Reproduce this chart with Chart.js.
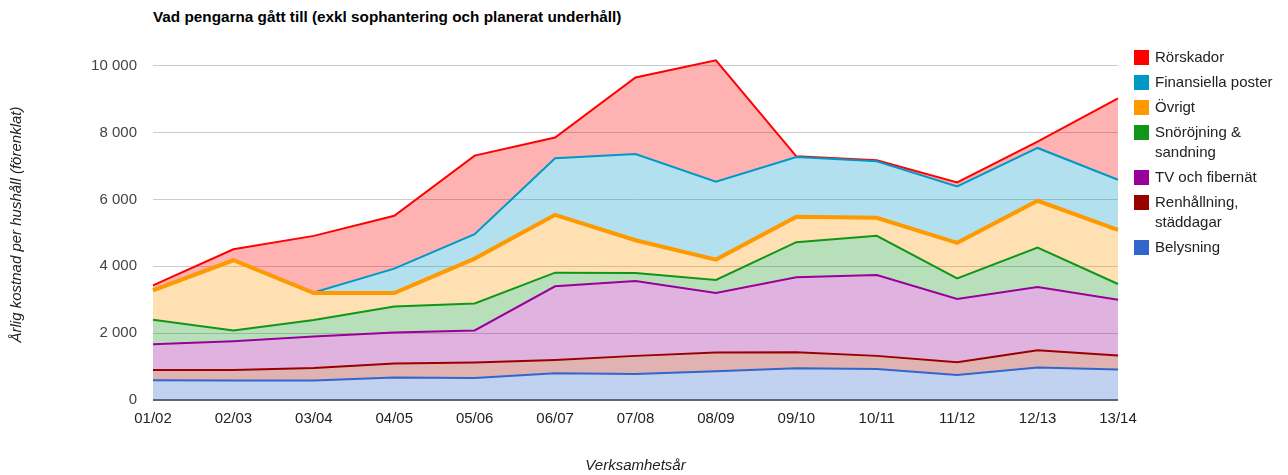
<!DOCTYPE html>
<html lang="sv">
<head>
<meta charset="utf-8">
<title>Vad pengarna gått till</title>
<script src="https://cdn.jsdelivr.net/npm/chart.js@4.4.1/dist/chart.umd.min.js"></script>
<style>
    html, body { margin: 0; padding: 0; background: #fff; }
    body { width: 1288px; height: 475px; position: relative; overflow: hidden; font-family: "Liberation Sans", Arial, sans-serif; }
    #chartTitle { position: absolute; left: 153px; top: 8px; font-size: 15.3px; font-weight: bold; color: #000; white-space: nowrap; }
    #chartWrap { position: absolute; left: 0; top: 0; width: 1288px; height: 475px; }
    #legend { position: absolute; left: 1134px; top: 47px; font-size: 15px; color: #222; }
    .item { position: relative; padding-left: 21px; width: 130px; line-height: 20px; margin-bottom: 5px; }
    .item .box { position: absolute; left: 0; top: 2.5px; width: 15px; height: 15px; }
</style>
</head>
<body>
<div id="chartTitle">Vad pengarna gått till (exkl sophantering och planerat underhåll)</div>
<div id="chartWrap"><canvas id="areaChart"></canvas></div>
<div id="legend"></div>
<script>
// Verksamhetsår
const years = ['01/02', '02/03', '03/04', '04/05', '05/06', '06/07', '07/08', '08/09', '09/10', '10/11', '11/12', '12/13', '13/14'];

// årlig kostnad per hushåll, per post (staplas nedifrån och upp)
const belysning   = [590, 580, 580, 670, 660, 800, 780, 860, 950, 930, 750, 970, 910];
const renhallning = [310, 320, 380, 420, 460, 400, 540, 560, 480, 390, 380, 520, 420];
const tvFiber     = [770, 860, 940, 930, 960, 2200, 2240, 1780, 2240, 2420, 1890, 1890, 1670];
const snorojning  = [730, 320, 490, 780, 810, 410, 240, 390, 1050, 1170, 620, 1180, 470];
const ovrigt      = [880, 2100, 810, 400, 1340, 1730, 980, 610, 760, 540, 1060, 1400, 1620];
const finansiella = [20, 10, 20, 730, 730, 1690, 2580, 2330, 1790, 1690, 1690, 1580, 1500];
const rorskador   = [130, 320, 1690, 1580, 2350, 620, 2290, 3630, 20, 30, 120, 190, 2430];

const yTicks = [0, 2000, 4000, 6000, 8000, 10000];

const series = [
    { label: 'Belysning', data: belysning, color: '#3366cc', rgb: '51, 102, 204', width: 2 },
    { label: 'Renhållning, städdagar', data: renhallning, color: '#990000', rgb: '153, 0, 0', width: 2 },
    { label: 'TV och fibernät', data: tvFiber, color: '#990099', rgb: '153, 0, 153', width: 2 },
    { label: 'Snöröjning & sandning', data: snorojning, color: '#109618', rgb: '16, 150, 24', width: 2 },
    { label: 'Övrigt', data: ovrigt, color: '#ff9900', rgb: '255, 153, 0', width: 4 },
    { label: 'Finansiella poster', data: finansiella, color: '#0099c6', rgb: '0, 153, 198', width: 2 },
    { label: 'Rörskador', data: rorskador, color: '#ff0000', rgb: '255, 0, 0', width: 2 }
];

const formatNumber = (value) => String(value).replace(/\B(?=(\d{3})+(?!\d))/g, ' ');

const datasets = series.map((s, i) => ({
    label: s.label,
    data: s.data,
    borderColor: s.color,
    backgroundColor: 'rgba(' + s.rgb + ', 0.3)',
    borderWidth: s.width,
    fill: i === 0 ? 'origin' : '-1',
    pointRadius: 0,
    tension: 0
}));

// legend, översta posten först
const legend = document.getElementById('legend');
series.slice().reverse().forEach((s) => {
    const item = document.createElement('div');
    item.className = 'item';
    const box = document.createElement('span');
    box.className = 'box';
    box.style.background = s.color;
    item.appendChild(box);
    item.appendChild(document.createTextNode(s.label));
    legend.appendChild(item);
});

const ctx = document.getElementById('areaChart').getContext('2d');
new Chart(ctx, {
    type: 'line',
    data: { labels: years, datasets },
    options: {
        responsive: true,
        maintainAspectRatio: false,
        animation: false,
        layout: { padding: { left: 0, right: 170, top: 49, bottom: 0 } },
        plugins: {
            legend: { display: false },
            tooltip: { enabled: false },
            filler: { drawTime: 'beforeDatasetsDraw' }
        },
        scales: {
            x: {
                type: 'category',
                offset: false,
                grid: { display: false, drawTicks: false },
                border: { display: false },
                ticks: {
                    color: '#222',
                    font: { family: 'Liberation Sans', size: 15 },
                    padding: 10,
                    maxRotation: 0,
                    autoSkip: false
                },
                title: {
                    display: true,
                    text: 'Verksamhetsår',
                    color: '#222',
                    font: { family: 'Liberation Sans', size: 15, style: 'italic' },
                    padding: { top: 0, bottom: 0 }
                },
                afterFit: (scale) => { scale.height = 75; }
            },
            y: {
                stacked: true,
                min: 0,
                max: 10500,
                afterBuildTicks: (scale) => { scale.ticks = yTicks.map((v) => ({ value: v })); },
                grid: {
                    drawTicks: false,
                    color: (c) => c.tick && c.tick.value === 0 ? '#666' : '#cccccc',
                    lineWidth: (c) => c.tick && c.tick.value === 0 ? 2 : 1
                },
                border: { display: false },
                ticks: {
                    color: '#444',
                    font: { family: 'Liberation Sans', size: 15 },
                    padding: 16,
                    callback: (value) => formatNumber(value)
                },
                title: {
                    display: true,
                    text: 'Årlig kostnad per hushåll (förenklat)',
                    color: '#222',
                    font: { family: 'Liberation Sans', size: 15, style: 'italic' },
                    padding: { top: 8, bottom: 0 }
                },
                afterFit: (scale) => { scale.width = 153; }
            }
        }
    }
});
</script>
</body>
</html>
